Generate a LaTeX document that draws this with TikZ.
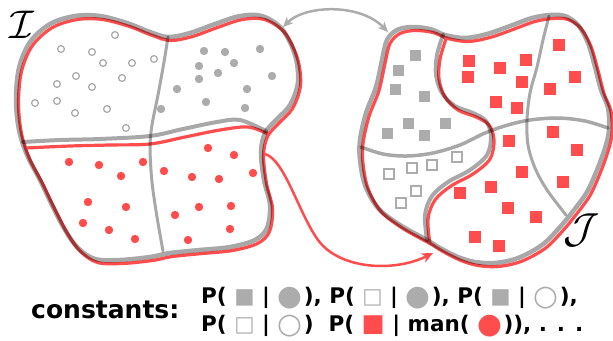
\documentclass[tikz,border=0pt]{standalone}
\usepackage{fontspec}
\setmainfont{DejaVu Sans}
\usetikzlibrary{arrows.meta}
\definecolor{rd}{RGB}{255,76,76}
\definecolor{gfill}{RGB}{172,172,172}
\newcommand\bigsym[1]{\raisebox{-2.5pt}{\fontsize{28.5}{28.5}\selectfont #1}\kern1.5pt}
\newcommand\gsq{{\mdseries\textcolor{gfill}{■}}}
\newcommand\hsq{{\mdseries\textcolor{gfill}{□}}}
\newcommand\rsq{{\mdseries\fontsize{24.5}{24.5}\selectfont\textcolor{rd}{■}}}
\newcommand\gci{{\mdseries\textcolor{gfill}{\bigsym{●}}}}
\newcommand\hci{{\mdseries\textcolor{gfill}{\bigsym{○}}}}
\newcommand\rci{{\mdseries\textcolor{rd}{\bigsym{●}}}}
\newcommand\leftblob{plot[smooth cycle, tension=0.55] coordinates {(16,100) (19,68) (30,42) (50,24) (75,16) (100,16) (127,23) (150,32) (168,37) (190,33) (215,24) (240,16) (262,16) (282,29) (295,55) (298,82) (290,105) (276,120) (265,133) (261,152) (264,180) (270,205) (267,228) (255,240) (230,247) (200,250) (170,253) (150,257) (120,260) (95,259) (78,248) (65,230) (52,205) (40,180) (27,155) (19,130)}}
\newcommand\rightblob{plot[smooth cycle, tension=0.55] coordinates {(360,140) (366,113) (376,87) (382,60) (387,40) (397,30) (412,27) (430,29) (445,35) (465,38) (487,34) (510,26) (532,18) (550,15) (565,16) (578,25) (588,43) (595,67) (601,90) (608,108) (609,130) (605,148) (597,170) (587,192) (574,210) (560,227) (542,245) (518,258) (495,263) (475,262) (458,257) (440,248) (427,240) (400,225) (378,208) (365,185) (360,160)}}
\newcommand\scurve{plot[smooth, tension=0.55] coordinates {(443,35) (437,55) (436,75) (442,93) (455,106) (473,113) (486,121) (491,136) (487,155) (470,170) (448,182) (432,196) (425,215) (427,240)}}
\begin{document}
\begin{tikzpicture}[x=1pt,y=-1pt,
  grayline/.style={draw=black, draw opacity=0.34, line width=#1, line join=round, line cap=round},
  grayline/.default=3pt,
  redline/.style={draw=rd, line width=#1, line join=round, line cap=round},
  redline/.default=3.2pt,
  opendot/.style={draw=gfill, line width=1.3pt, fill=white},
  hollowsq/.style={draw=gfill, line width=1.3pt, fill=white}
]
\useasboundingbox (0,0) rectangle (613,340);

% ---------- markers ----------
\foreach \x/\y in {115/35,61/49,92/52,103/63,132/63,154/59,76/76,122/78,57/84,92/87,35/103,57/101,107/109,75/113,126/128}
  \draw[opendot] (\x,\y) circle[radius=3.4pt];
\foreach \x/\y in {204/51,225/52,260/49,199/66,234/63,218/73,199/79,272/76,177/89,247/89,206/102,245/108,161/109}
  \fill[gfill] (\x,\y) circle[radius=4.2pt];
\foreach \x/\y in {69/162,99/165,143/162,121/176,88/202,126/207,83/223,109/230,135/239,208/148,234/155,164/171,192/177,219/179,253/173,199/207,231/206,175/215,230/229,188/240}
  \fill[rd] (\x,\y) circle[radius=4.2pt];
\foreach \x/\y in {415/55,398/70,395/89,424/96,408/123,445/123,387/133,424/135}
  \fill[gfill] (\x-5.5,\y-5.5) rectangle ++(11,11);
\foreach \x/\y in {457/157,432/165,412/168,389/174,416/191,401/203}
  \draw[hollowsq] (\x-5,\y-5) rectangle ++(10,10);
\foreach \x/\y in {469/61,468/77,500/68,526/60,522/82,496/102,517/108,559/45,575/77,550/89,553/132,577/150,509/141,522/172,563/182,491/187,460/193,508/208,536/217,475/237,499/246}
  \fill[rd] (\x-6,\y-6) rectangle ++(12,12);

% ---------- red partition ----------
\draw[redline, shift={(2.5,3.5)}] \leftblob;
\draw[redline] plot[smooth, tension=0.55] coordinates {(26,148) (70,146) (110,145) (150,144) (185,137) (220,130) (248,127) (268,134)};
\draw[redline, shift={(3,3.5)}] \rightblob;
\draw[redline, shift={(3,4)}] \scurve;

% ---------- gray partition ----------
\draw[grayline=4.5pt] \leftblob;
\draw[grayline=4pt] plot[smooth, tension=0.55] coordinates {(23,142) (60,140) (100,139) (150,136) (183,129) (217,122) (240,120) (266,131)};
\draw[grayline=3pt] plot[smooth, tension=0.55] coordinates {(168,37) (164,62) (158,95) (152,125) (150,148) (152,182) (157,217) (163,251)};
\draw[grayline=4.5pt] \rightblob;
\draw[grayline=4pt] \scurve;
\draw[grayline=3.5pt] plot[smooth, tension=0.55] coordinates {(361,147) (383,154) (407,156) (433,153) (460,145) (485,133) (508,125) (530,120) (558,118) (585,121) (608,128)};
\draw[grayline=3pt] plot[smooth, tension=0.55] coordinates {(549,16) (543,40) (537,67) (530,93) (527,120) (528,145) (535,168) (547,190) (566,215)};

% ---------- arrows ----------
\coordinate (ga) at (283,27);
\coordinate (gb) at (388,32);
\draw[draw=gfill, line width=2.5pt, {Stealth[length=10pt, width=9pt, inset=3pt]}-{Stealth[length=10pt, width=9pt, inset=3pt]}]
  (ga) .. controls (305,5) and (360,3) .. (gb);
\coordinate (ra) at (265,154);
\coordinate (rm) at (318,240);
\coordinate (rb) at (433,253);
\draw[draw=rd, line width=2.5pt, -{Stealth[length=11pt, width=10pt, inset=3pt]}]
  (ra) .. controls (285,160) and (298,212) .. (rm) .. controls (340,270) and (395,272) .. (rb);

% ---------- labels ----------
\node (calI) at (22,25) {\scalebox{4}{$\mathcal{I}$}};
\node (calJ) at (582,230) {\scalebox{4.2}{$\mathcal{J}$}};
\node[anchor=base west, inner sep=0pt, font=\fontsize{25}{30}\selectfont\bfseries] (const) at (31,318) {constants:};
\node[anchor=base west, inner sep=0pt, font=\fontsize{21.5}{26}\selectfont\bfseries] (line1) at (201,303)
  {P(\ \gsq\ |\ \gci), P(\ \hsq\ |\ \gci), P(\ \gsq\ |\ \hci),};
\node[anchor=base west, inner sep=0pt, font=\fontsize{21.5}{26}\selectfont\bfseries] (line2) at (201,331)
  {P(\ \hsq\ |\ \hci)\hspace{15pt}P(\ \rsq\ |\ man(\ \rci)), . . .};
\end{tikzpicture}
\end{document}
